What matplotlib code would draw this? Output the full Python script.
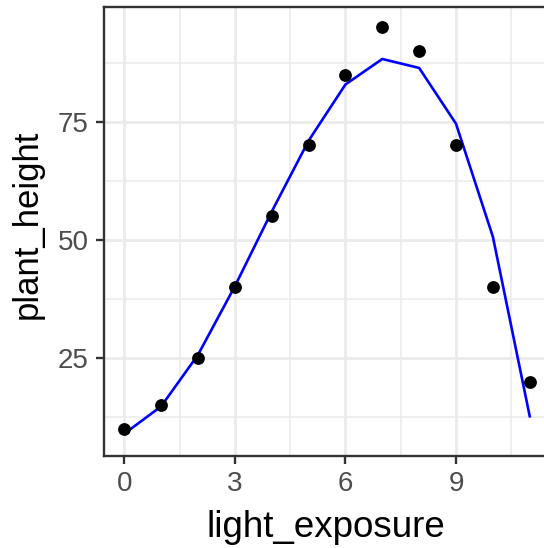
import matplotlib
matplotlib.use("Agg")
import matplotlib.pyplot as plt
from matplotlib.ticker import FixedLocator

light_exposure = [0, 1, 2, 3, 4, 5, 6, 7, 8, 9, 10, 11]
plant_height = [10, 15, 25, 40, 55, 70, 85, 95, 90, 70, 40, 20]
fitted_height = [9.0, 14.8, 25.7, 40.2, 56.0, 71.0, 82.9, 88.3, 86.4, 74.6, 50.7, 12.7]

x_ticks = [0, 3, 6, 9]
y_ticks = [25, 50, 75]

plt.rcParams['font.family'] = ['Liberation Sans', 'DejaVu Sans']

W, H = 544, 548
fig = plt.figure(figsize=(W / 100, H / 100), dpi=100)
left, right, bottom, top = 104, 550, 455.5, 7
aw, ah = right - left, bottom - top
ax = fig.add_axes([left / W, (H - bottom) / H, aw / W, ah / H])

ax.set_xlim(-0.55, 11.55)
ax.set_ylim(4.4, 99.3)

ax.xaxis.set_major_locator(FixedLocator(x_ticks))
ax.yaxis.set_major_locator(FixedLocator(y_ticks))
ax.xaxis.set_minor_locator(FixedLocator([1.5, 4.5, 7.5, 10.5]))
ax.yaxis.set_minor_locator(FixedLocator([12.5, 37.5, 62.5, 87.5]))

ax.grid(which='major', color='#EBEBEB', linewidth=2.0, zorder=0)
ax.grid(which='minor', color='#EBEBEB', linewidth=1.1, zorder=0)
ax.set_axisbelow(True)

for s in ax.spines.values():
    s.set_color('#333333')
    s.set_linewidth(1.7)

ax.tick_params(which='major', length=5.5, width=1.7, color='#333333',
               labelcolor='#4D4D4D', labelsize=20, pad=5.5)
ax.tick_params(which='minor', length=0)

ax.plot(light_exposure, fitted_height, color='#0000FF', linewidth=1.9, zorder=3)
ax.scatter(light_exposure, plant_height, s=85, color='black', zorder=4, linewidth=0)

ax.set_xlabel('light_exposure', fontsize=26.5, color='black')
ax.set_ylabel('plant_height', fontsize=25, color='black')
ax.xaxis.set_label_coords((325.5 - left) / aw, (bottom - 510) / ah)
ax.yaxis.set_label_coords((44 - left) / aw, (bottom - 224) / ah)

fig.savefig('out.png', dpi=100)
